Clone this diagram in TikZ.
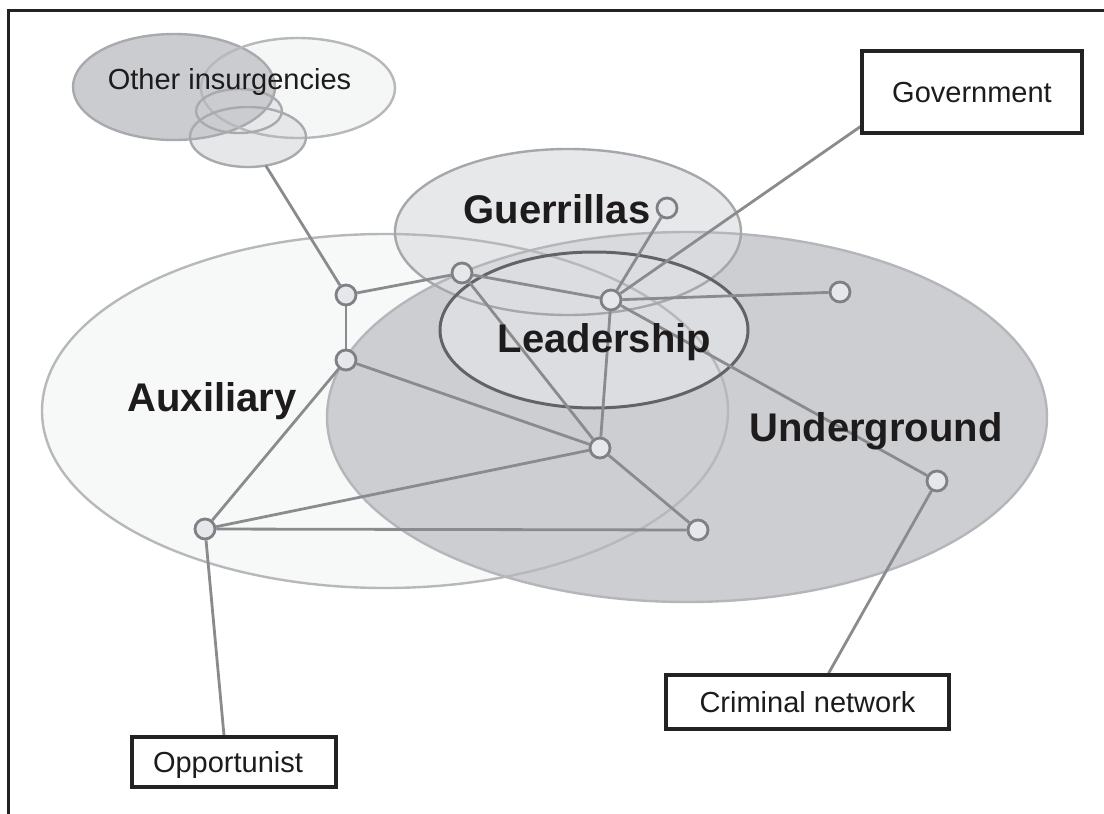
\documentclass[tikz,border=0pt]{standalone}
\usepackage{fontspec}
\setmainfont{Liberation Sans}
\usetikzlibrary{shapes.geometric}
\definecolor{auxfill}{HTML}{F7F8F8}
\definecolor{auxline}{HTML}{B7B8BC}
\definecolor{undfill}{HTML}{CDCED2}
\definecolor{undline}{HTML}{B5B6BA}
\definecolor{guefill}{HTML}{DEDFE2}
\definecolor{gueline}{HTML}{A6A7AB}
\definecolor{leafill}{HTML}{DCDDE0}
\definecolor{lealine}{HTML}{636366}
\definecolor{oidark}{HTML}{CBCCD0}
\definecolor{oilight}{HTML}{F5F6F6}
\definecolor{oismall}{HTML}{E6E7E9}
\definecolor{oiline}{HTML}{A9AAAE}
\definecolor{linkcol}{HTML}{8A8B8F}
\definecolor{nodedraw}{HTML}{7F8084}
\definecolor{nodefill}{HTML}{E6E7EA}
\definecolor{boxcol}{HTML}{222222}
\definecolor{textcol}{HTML}{1E1B1C}
\pgfdeclarelayer{bg}
\pgfdeclarelayer{edgelayer}
\pgfsetlayers{bg,edgelayer,main}
\begin{document}
\begin{tikzpicture}[x=1pt,y=-1pt,
  actor/.style={circle, draw=nodedraw, fill=nodefill, line width=2.8pt, minimum size=20pt, inner sep=0pt},
  link/.style={draw=linkcol, line width=2.8pt},
  box/.style={draw=boxcol, line width=3.2pt, fill=white, text=textcol, font=\fontsize{29}{34}\selectfont, text height=21pt, text depth=0pt, inner sep=0pt},
  ring/.style={ellipse, inner sep=0pt, outer sep=0pt},
  biglabel/.style={font=\fontsize{40}{48}\selectfont\bfseries, text=textcol, anchor=base, inner sep=0pt},
  smalllabel/.style={font=\fontsize{29}{34}\selectfont, text=textcol, anchor=base, inner sep=0pt}]
\useasboundingbox (0,0) rectangle (1104,814);
\begin{pgfonlayer}{bg}
\fill[white] (0,0) rectangle (1104,814);
% frame
\draw[boxcol, line width=3pt] (8,814) -- (8,10) -- (1104,10);
% fills: other insurgencies
\fill[oilight] (298,88) ellipse [x radius=97pt, y radius=50pt];
\fill[oismall] (248,137) ellipse [x radius=58pt, y radius=30pt];
\fill[oismall] (239,111) ellipse [x radius=43pt, y radius=22pt];
\fill[oidark] (174,87) ellipse [x radius=101pt, y radius=53pt];
% fills: main groups
\fill[auxfill] (385,411) ellipse [x radius=343pt, y radius=177pt];
\fill[undfill] (687,417) ellipse [x radius=360pt, y radius=185pt];
\fill[guefill, fill opacity=0.71] (568,232) ellipse [x radius=173pt, y radius=83pt];
\fill[leafill] (594,330) ellipse [x radius=154pt, y radius=78pt];
% outlines
\node[ring, draw=oiline, line width=2.4pt, minimum width=202pt, minimum height=106pt] (oiA) at (174,87) {};
\node[ring, draw=auxline, line width=2.4pt, minimum width=194pt, minimum height=100pt] (oiB) at (298,88) {};
\node[ring, draw=oiline, line width=2.4pt, minimum width=86pt, minimum height=44pt] (oiC) at (239,111) {};
\node[ring, draw=oiline, line width=2.4pt, minimum width=116pt, minimum height=60pt] (oiD) at (248,137) {};
\node[ring, draw=auxline, line width=2.4pt, minimum width=686pt, minimum height=354pt] (aux) at (385,411) {};
\node[ring, draw=undline, line width=2.4pt, minimum width=720pt, minimum height=370pt] (und) at (687,417) {};
\node[ring, draw=gueline, line width=2.4pt, minimum width=346pt, minimum height=166pt] (gue) at (568,232) {};
\node[ring, draw=lealine, line width=3pt, minimum width=308pt, minimum height=156pt] (lea) at (594,330) {};
\end{pgfonlayer}
% boxes
\node[box, minimum width=220pt, minimum height=82pt] (gov) at (972,92) {Government};
\node[box, minimum width=283pt, minimum height=54pt] (crim) at (807.5,702) {Criminal network};
\node[box, minimum height=50pt, text width=162pt, inner xsep=21pt, align=left] (opp) at (234,762) {Opportunist};
% actors
\node[actor] (n1) at (346,295) {};
\node[actor] (n2) at (346,360) {};
\node[actor] (n3) at (462,273) {};
\node[actor] (n4) at (667,208) {};
\node[actor] (n5) at (611,300) {};
\node[actor] (n6) at (840,292) {};
\node[actor] (n7) at (600,448) {};
\node[actor] (n8) at (205,529) {};
\node[actor] (n9) at (698,530) {};
\node[actor] (n10) at (937,481) {};
% links
\begin{pgfonlayer}{edgelayer}
\path[link] (oiD) -- (n1);
\path[link] (n1) -- (n3);
\path[link] (n1) -- (n2);
\path[link] (n2) -- (n7);
\path[link] (n2) -- (n8);
\path[link] (n3) -- (n5);
\path[link] (n3) -- (n7);
\path[link] (n5) -- (n4);
\path[link] (n5) -- ([yshift=8pt]gov.south west);
\path[link] (n5) -- (n6);
\path[link] (n5) -- (n7);
\path[link] (n5) -- (n10);
\path[link] (n7) -- (n8);
\path[link] (n7) -- (n9);
\path[link] (n8) -- (n9);
\path[link] (n8) -- ([xshift=-10pt]opp.north);
\path[link] (n10) -- ([xshift=21pt]crim.north);
\end{pgfonlayer}
% labels
\node[smalllabel] (toi) at (229.5,89) {Other insurgencies};
\node[biglabel] (tgue) at (557,223) {Guerrillas};
\node[biglabel] (tlea) at (604.5,352) {Leadership};
\node[biglabel] (taux) at (212,411) {Auxiliary};
\node[biglabel] (tund) at (876,441) {Underground};
\end{tikzpicture}
\end{document}
